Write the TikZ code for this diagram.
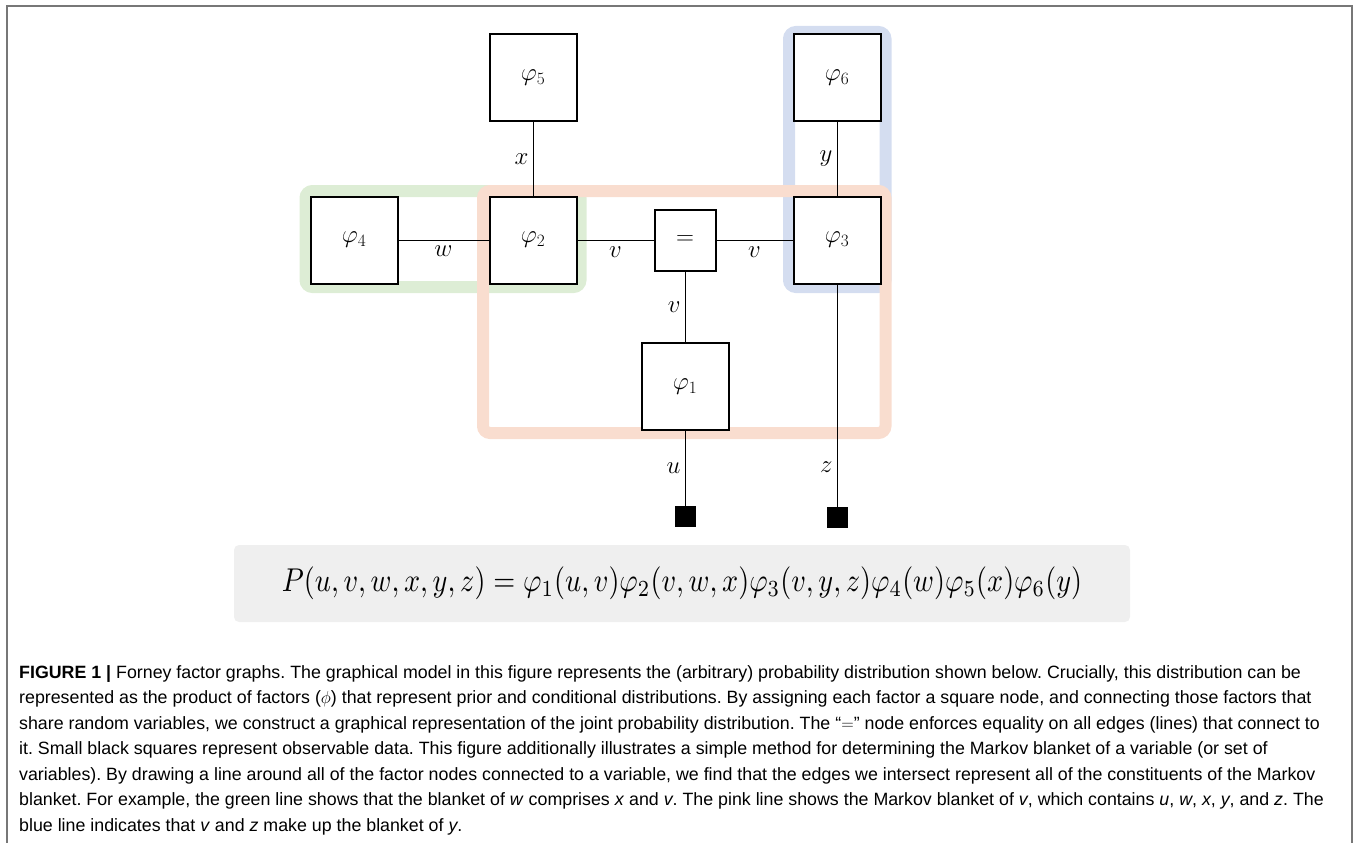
\documentclass[tikz,border=0pt]{standalone}
\usepackage{fontspec}
\setmainfont{Liberation Sans}
\usepackage{amsmath}
\usepackage{graphicx}
\usetikzlibrary{positioning}
\definecolor{bandgreen}{HTML}{DDEDD5}
\definecolor{bandblue}{HTML}{D4DDF0}
\definecolor{bandpink}{HTML}{F9DDCF}
\definecolor{eqgray}{HTML}{EFEFEF}
\definecolor{framegray}{HTML}{777777}
\frenchspacing
\tikzset{
  fac/.style   = {draw, line width=2pt, fill=white, minimum width=87pt,
                  minimum height=87pt, inner sep=0pt,
                  font=\fontsize{24}{24}\selectfont},
  eqn/.style   = {fac, minimum width=61pt, minimum height=61pt},
  obs/.style   = {draw, fill=black, minimum size=20pt, inner sep=0pt},
  link/.style  = {line width=1pt},
  lbl/.style   = {font=\fontsize{23}{23}\selectfont, inner sep=1pt},
  band/.style  = {line width=12pt, rounded corners=7pt},
  eqbox/.style = {fill=eqgray, rounded corners=5pt, minimum width=896pt,
                  minimum height=77pt, inner sep=0pt},
  capt/.style  = {align=left, inner sep=0pt,
                  font=\fontsize{17.8}{25.5}\selectfont},
}

\begin{document}
\begin{tikzpicture}[x=1pt,y=-1pt]
\useasboundingbox (0,0) rectangle (1357,843);
\draw[framegray, line width=2pt] (7,843) |- (1352,6) -- (1352,843);

% Markov blankets
\draw[band, bandgreen] (305.5,191) rectangle (580.5,287);
\draw[band, bandblue] (789,32) rectangle (885.5,287);
\draw[band, bandpink] (483,191) rectangle (885.5,433);

\node[fac] (f5) at (533,77.5) {$\varphi_5$};
\node[fac] (f6) at (837,77.5) {$\varphi_6$};
\node[fac] (f4) at (354,240) {$\varphi_4$};
\node[fac] (f2) at (533,240) {$\varphi_2$};
\node[eqn] (eq) at (685,240) {$=$};
\node[fac] (f3) at (837,240) {$\varphi_3$};
\node[fac] (f1) at (685,386.5) {$\varphi_1$};
\node[obs] (obsu) at (685,516) {};
\node[obs] (obsz) at (837,517) {};

\draw[link] (f5) -- node[lbl, left=3pt] {$x$} (f2);
\draw[link] (f6) -- node[lbl, left=3pt] {$y$} (f3);
\draw[link] (f4) -- node[lbl, below=4pt] {$w$} (f2);
\draw[link] (f2) -- node[lbl, below=5pt] {$v$} (eq);
\draw[link] (eq) -- node[lbl, below=5pt] {$v$} (f3);
\draw[link] (eq) -- node[lbl, left=3pt] {$v$} (f1);
\draw[link] (f1) -- node[lbl, left=3pt] {$u$} (obsu);
\draw[link] (f3) -- node[lbl, left=3pt, pos=0.82] {$z$} (obsz);

\node[eqbox] (joint) at (682,583.5)
  {\resizebox{800pt}{!}{\scalebox{1}[1.17]{$P(u,v,w,x,y,z)=\varphi_1(u,v)\varphi_2(v,w,x)\varphi_3(v,y,z)\varphi_4(w)\varphi_5(x)\varphi_6(y)$}}};

\node[capt, anchor=north west] (caption) at (19,665)
  {\textbf{FIGURE 1 |} Forney factor graphs. The graphical model in this figure represents the (arbitrary) probability distribution shown below. Crucially, this distribution can be\\
   represented as the product of factors ($\phi$) that represent prior and conditional distributions. By assigning each factor a square node, and connecting those factors that\\
   share random variables, we construct a graphical representation of the joint probability distribution. The “$=$” node enforces equality on all edges (lines) that connect to\\
   it. Small black squares represent observable data. This figure additionally illustrates a simple method for determining the Markov blanket of a variable (or set of\\
   variables). By drawing a line around all of the factor nodes connected to a variable, we find that the edges we intersect represent all of the constituents of the Markov\\
   blanket. For example, the green line shows that the blanket of \textit{w} comprises \textit{x} and \textit{v}. The pink line shows the Markov blanket of \textit{v}, which contains \textit{u}, \textit{w}, \textit{x}, \textit{y}, and \textit{z}. The\\
   blue line indicates that \textit{v} and \textit{z} make up the blanket of \textit{y}.};
\end{tikzpicture}
\end{document}
